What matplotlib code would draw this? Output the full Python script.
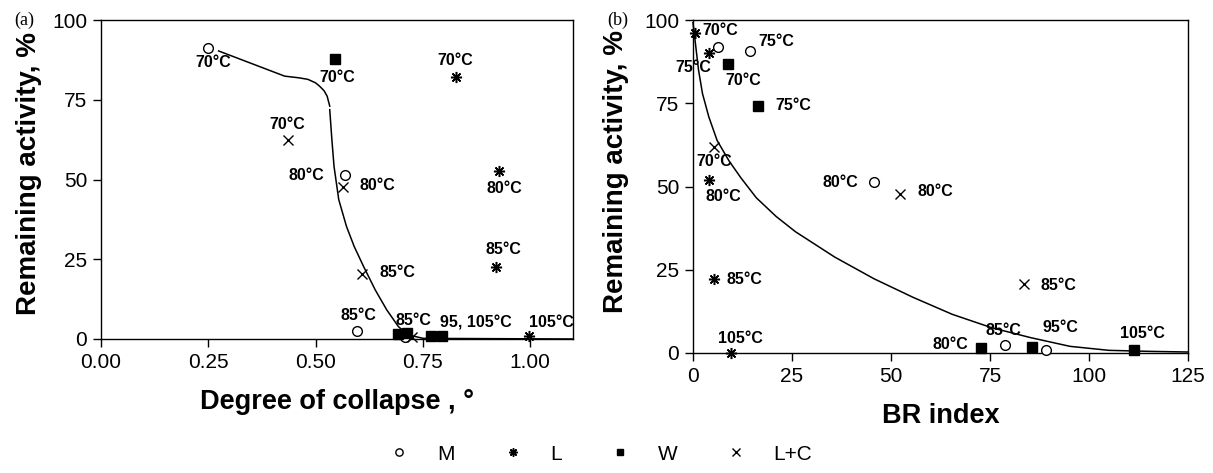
import matplotlib
matplotlib.use("Agg")
import matplotlib.pyplot as plt

plt.rcParams['font.family'] = ['Liberation Sans', 'DejaVu Sans']

# ---- panel (a): degree of collapse ----
a_m_x = [0.25, 0.569, 0.597, 0.709]
a_m_y = [91.3, 51.5, 2.5, 0.7]
a_l_x = [0.827, 0.928, 0.921, 0.997]
a_l_y = [82.2, 52.8, 22.7, 0.9]
a_w_x = [0.546, 0.691, 0.712, 0.768, 0.795]
a_w_y = [87.9, 1.6, 1.8, 1.0, 1.0]
a_lc_x = [0.435, 0.563, 0.609, 0.724]
a_lc_y = [62.3, 47.6, 20.4, 0.7]

# fitted curve (two pieces, small gap between them)
a_curve1_x = [0.274, 0.350, 0.428, 0.460, 0.482, 0.500, 0.509, 0.520, 0.527, 0.533]
a_curve1_y = [90.3, 86.4, 82.4, 81.9, 81.4, 80.3, 79.3, 77.8, 76.1, 73.0]
a_curve2_x = [0.533, 0.538, 0.543, 0.554, 0.572, 0.590, 0.612, 0.639, 0.666, 0.693, 0.715, 0.751, 1.10]
a_curve2_y = [71.9, 62.5, 54.1, 43.7, 35.3, 29.0, 22.7, 15.4, 9.1, 3.9, 1.3, 0.2, 0.0]

a_labels = ["70°C", "80°C", "85°C", "85°C", "70°C", "80°C", "85°C", "105°C",
            "70°C", "95, 105°C", "70°C", "80°C", "85°C"]
a_label_x = [0.261, 0.478, 0.600, 0.728, 0.825, 0.941, 0.937, 1.049,
             0.550, 0.874, 0.435, 0.644, 0.691]
a_label_y = [86.7, 51.2, 7.5, 5.8, 87.4, 47.3, 28.0, 5.1,
             81.9, 5.1, 67.2, 48.2, 20.8]

# ---- panel (b): BR index ----
b_m_x = [6.3, 14.3, 45.7, 78.9, 89.1]
b_m_y = [91.8, 90.8, 51.3, 2.5, 0.8]
b_l_x = [0.4, 4.0, 4.0, 5.3, 9.7]
b_l_y = [96.2, 90.1, 52.1, 22.3, 0.0]
b_w_x = [8.9, 16.5, 72.7, 85.6, 111.3]
b_w_y = [86.7, 74.2, 1.5, 1.7, 1.0]
b_lc_x = [5.3, 52.2, 83.6]
b_lc_y = [62.0, 47.6, 20.7]

b_curve_x = [0.0, 0.7, 1.4, 2.4, 4.0, 6.1, 9.1, 12.1, 16.0, 21.0, 25.9, 35.8, 45.7,
             55.6, 65.5, 75.4, 85.3, 95.2, 105.0, 114.9, 124.8]
b_curve_y = [99.2, 92.1, 85.0, 77.9, 70.9, 63.8, 57.7, 52.6, 46.6, 41.0, 36.4, 28.8, 22.3,
             16.7, 11.6, 7.6, 4.6, 2.0, 0.8, 0.5, 0.3]

b_labels = ["70°C", "75°C", "70°C", "75°C", "75°C", "70°C", "80°C", "80°C", "80°C",
            "85°C", "85°C", "105°C", "80°C", "85°C", "95°C", "105°C"]
b_label_x = [6.9, 0.2, 12.6, 21.0, 25.4, 5.3, 7.6, 37.3, 61.2,
             13.1, 92.4, 11.9, 65.0, 78.3, 92.9, 113.5]
b_label_y = [96.9, 85.7, 81.7, 93.4, 74.2, 57.5, 47.1, 51.3, 48.6,
             22.1, 20.2, 4.3, 2.5, 6.8, 7.6, 5.8]

series_names = ["M", "L", "W", "L+C"]

# marker styles for the four series
styles = [
    dict(marker='o', mfc='white', mec='black', ms=7, mew=1.0),
    dict(marker=(8, 2, 0), mfc='black', mec='black', ms=8, mew=1.1),
    dict(marker='s', mfc='black', mec='black', ms=6.5, mew=1.0),
    dict(marker='x', mfc='black', mec='black', ms=7, mew=1.0),
]

fig = plt.figure(figsize=(12.13, 4.73), dpi=100)
ax1 = fig.add_axes([0.0833, 0.2833, 0.3891, 0.6744])
ax2 = fig.add_axes([0.5713, 0.2537, 0.4081, 0.704])


def draw_points(ax, xs, ys):
    handles = []
    for x, y, name, st in zip(xs, ys, series_names, styles):
        h, = ax.plot(x, y, linestyle='none', color='black', clip_on=False,
                     label=name, zorder=3, **st)
        handles.append(h)
    return handles


def style_axes(ax):
    for sp in ax.spines.values():
        sp.set_linewidth(1.0)
    ax.tick_params(direction='out', length=6, width=1, labelsize=15, pad=4)


# panel a
handles = draw_points(ax1, [a_m_x, a_l_x, a_w_x, a_lc_x], [a_m_y, a_l_y, a_w_y, a_lc_y])
ax1.plot(a_curve1_x, a_curve1_y, color='black', lw=1.1, clip_on=False)
ax1.plot(a_curve2_x, a_curve2_y, color='black', lw=1.1, clip_on=False)
for t, x, y in zip(a_labels, a_label_x, a_label_y):
    ax1.text(x, y, t, ha='center', va='center', fontsize=11.5, fontweight='bold', clip_on=False)
ax1.set_xlim(0, 1.1)
ax1.set_ylim(0, 100)
ax1.set_xticks([0, 0.25, 0.5, 0.75, 1.0])
ax1.set_xticklabels(["0.00", "0.25", "0.50", "0.75", "1.00"])
ax1.set_yticks([0, 25, 50, 75, 100])
style_axes(ax1)
ax1.set_xlabel("Degree of collapse , °", fontsize=19.5, fontweight='bold', labelpad=12)
ax1.set_ylabel("Remaining activity, %", fontsize=20, fontweight='bold')
ax1.yaxis.set_label_coords(-0.125, 0.52)
fig.text(0.020, 0.957, "(a)", family=['Liberation Serif', 'DejaVu Serif'], fontsize=13,
         ha='center', va='center')

# panel b
draw_points(ax2, [b_m_x, b_l_x, b_w_x, b_lc_x], [b_m_y, b_l_y, b_w_y, b_lc_y])
ax2.plot(b_curve_x, b_curve_y, color='black', lw=1.1, clip_on=False)
for t, x, y in zip(b_labels, b_label_x, b_label_y):
    ax2.text(x, y, t, ha='center', va='center', fontsize=11.5, fontweight='bold', clip_on=False)
ax2.set_xlim(0, 125)
ax2.set_ylim(0, 100)
ax2.set_xticks([0, 25, 50, 75, 100, 125])
ax2.set_yticks([0, 25, 50, 75, 100])
style_axes(ax2)
ax2.set_xlabel("BR index", fontsize=19.5, fontweight='bold', labelpad=12)
ax2.set_ylabel("Remaining activity, %", fontsize=20, fontweight='bold')
ax2.yaxis.set_label_coords(-0.13, 0.545)
fig.text(0.509, 0.958, "(b)", family=['Liberation Serif', 'DejaVu Serif'], fontsize=13,
         ha='center', va='center')

# shared legend under both panels
fig.legend(handles=handles, labels=series_names, loc='center', bbox_to_anchor=(0.495, 0.04),
           ncol=4, frameon=False, fontsize=15, handletextpad=1.3, columnspacing=2.3,
           markerscale=0.75, handlelength=1.0)

fig.savefig("out.png", dpi=100)
